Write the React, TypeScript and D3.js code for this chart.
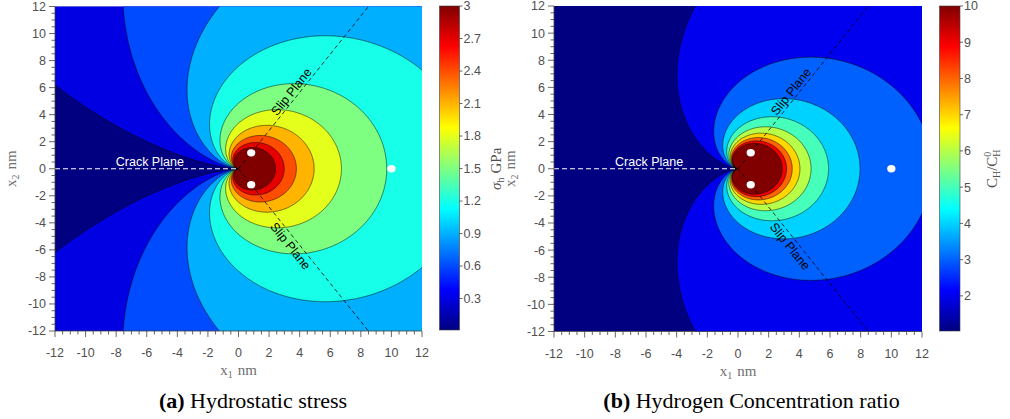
import React, { useMemo } from "react";
import * as d3 from "d3";

// ---- Crack-tip field parameters ----
// Hydrostatic stress of a mode-I crack: sigma_h = K * cos(theta/2) / sqrt(r)  [GPa, nm]
const stressIntensity = 4.67;
// Hydrogen trapping factor V_H / (R T) in 1/GPa : C/C0 = exp(factor * sigma_h)
const trapFactor = 0.8375;

// Contour levels
const stressLevels = [0.3, 0.6, 0.9, 1.2, 1.5, 1.8, 2.1, 2.4, 2.7, 3.0];
const concLevels = [2, 3, 4, 5, 6, 7, 8, 9, 10];

// Colour limits
const stressRange: [number, number] = [0.01, 3];
const concRange: [number, number] = [1.03, 10];

// Tick labels
const axisTicks = [-12, -10, -8, -6, -4, -2, 0, 2, 4, 6, 8, 10, 12];
const stressTicks = [0.3, 0.6, 0.9, 1.2, 1.5, 1.8, 2.1, 2.4, 2.7, 3];
const stressTickLabels = ["0.3", "0.6", "0.9", "1.2", "1.5", "1.8", "2.1", "2.4", "2.7", "3"];
const concTicks = [2, 3, 4, 5, 6, 7, 8, 9, 10];

// Annotations
const slipAngleDeg = 54.7;
const hydrogenSitesX = [0.83, 0.83, 10];
const hydrogenSitesY = [1.18, -1.18, 0];
const siteRadius = 0.27;
const crackLabelPos: [number, number] = [-5.8, 0.2];
const slipLabelX = [3.45, 3.4];
const slipLabelY = [5.7, -5.72];

const DOMAIN: [number, number] = [-12, 12];
const SANS = "'Liberation Sans', Arial, Helvetica, sans-serif";
const SERIF = "'Liberation Serif', 'Times New Roman', Times, serif";

const jet = (t: number) => {
  const c = (v: number) => Math.max(0, Math.min(1, v));
  const r = c(1.5 - Math.abs(4 * t - 3));
  const g = c(1.5 - Math.abs(4 * t - 2));
  const b = c(1.5 - Math.abs(4 * t - 1));
  return d3.rgb(r * 255, g * 255, b * 255).formatHex();
};

// Sampling grid (slightly larger than the view, so outer ring edges get clipped away)
const N = 600;
const G0 = -12.5;
const STEP = 25 / N;

const hydrostatic = (x: number, y: number) => {
  const r = Math.hypot(x, y);
  const th = Math.atan2(y, x);
  return (stressIntensity * Math.cos(th / 2)) / Math.sqrt(r);
};
const concentration = (x: number, y: number) => Math.exp(trapFactor * hydrostatic(x, y));

function sample(f: (x: number, y: number) => number) {
  const vals = new Array(N * N);
  for (let j = 0; j < N; j++) {
    const y = -G0 - (j + 0.5) * STEP;
    for (let i = 0; i < N; i++) {
      const x = G0 + (i + 0.5) * STEP;
      vals[j * N + i] = f(x, y);
    }
  }
  return vals;
}

type PanelProps = {
  id: string;
  left: number;
  right: number;
  top: number;
  bottom: number;
  field: (x: number, y: number) => number;
  levels: number[];
  range: [number, number];
  cbLeft: number;
  cbWidth: number;
  cbTop: number;
  cbBottom: number;
  cbTicks: number[];
  cbTickLabels: string[];
  cbLabel: React.ReactNode;
  cbLabelX: number;
  yLabelX: number;
  caption: [string, string];
  captionX: number;
};

function Panel(p: PanelProps) {
  const xs = d3.scaleLinear().domain(DOMAIN).range([p.left, p.right]);
  const ys = d3.scaleLinear().domain(DOMAIN).range([p.bottom, p.top]);
  const cs = d3.scaleLinear().domain(p.range).range([p.cbBottom, p.cbTop]);
  const colorOf = (v: number) => jet((v - p.range[0]) / (p.range[1] - p.range[0]));

  const paths = useMemo(() => {
    const vals = sample(p.field);
    const contours = d3.contours().size([N, N]).thresholds(p.levels)(vals);
    const proj = d3.geoTransform({
      point(px: number, py: number) {
        (this as any).stream.point(xs(G0 + px * STEP), ys(-G0 - py * STEP));
      },
    });
    const gp = d3.geoPath(proj);
    return contours.map((c) => ({ value: c.value, d: gp(c as any) || "" }));
  }, [p.id]);

  const minor = d3.range(-12, 12.001, 0.5);
  const clipId = `clip-${p.id}`;
  const gradId = `grad-${p.id}`;
  const jetStops = [0, 0.125, 0.375, 0.625, 0.875, 1];

  const a = (slipAngleDeg * Math.PI) / 180;
  const far = 40;
  const pxAngle =
    (Math.atan2(ys(Math.sin(a)) - ys(0), xs(Math.cos(a)) - xs(0)) * 180) / Math.PI;

  const midY = (p.top + p.bottom) / 2;

  return (
    <g>
      <defs>
        <clipPath id={clipId}>
          <rect x={p.left} y={p.top} width={p.right - p.left} height={p.bottom - p.top} />
        </clipPath>
        <linearGradient id={gradId} x1="0" y1="1" x2="0" y2="0">
          {jetStops.map((t) => (
            <stop key={t} offset={t} stopColor={jet(t)} />
          ))}
        </linearGradient>
      </defs>

      <g clipPath={`url(#${clipId})`}>
        <rect
          x={p.left}
          y={p.top}
          width={p.right - p.left}
          height={p.bottom - p.top}
          fill={colorOf(p.range[0])}
        />
        {paths.map((c) => (
          <path key={"f" + c.value} d={c.d} fill={colorOf(c.value)} fillRule="evenodd" />
        ))}
        {paths.map((c) => (
          <path key={"s" + c.value} d={c.d} fill="none" stroke="#000" strokeWidth={0.6} strokeOpacity={0.85} />
        ))}

        {/* slip planes */}
        {[1, -1].map((s) => (
          <line
            key={"slip" + s}
            x1={xs(0)}
            y1={ys(0)}
            x2={xs(far * Math.cos(a))}
            y2={ys(s * far * Math.sin(a))}
            stroke="#000"
            strokeWidth={0.8}
            strokeDasharray="4 3"
          />
        ))}
        {/* crack plane */}
        <line
          x1={xs(-12)}
          y1={ys(0)}
          x2={xs(0)}
          y2={ys(0)}
          stroke="#fff"
          strokeWidth={1}
          strokeDasharray="5 3"
        />
        {/* hydrogen sites */}
        {hydrogenSitesX.map((hx, i) => (
          <ellipse
            key={"h" + i}
            cx={xs(hx)}
            cy={ys(hydrogenSitesY[i])}
            rx={xs(siteRadius) - xs(0)}
            ry={ys(0) - ys(siteRadius)}
            fill="#fff"
          />
        ))}
      </g>

      <text
        x={xs(crackLabelPos[0])}
        y={ys(crackLabelPos[1])}
        fill="#fff"
        fontFamily={SANS}
        fontSize={12.5}
        textAnchor="middle"
      >
        Crack Plane
      </text>
      {slipLabelX.map((lx, i) => (
        <text
          key={"sl" + i}
          transform={`translate(${xs(lx)},${ys(slipLabelY[i])}) rotate(${i === 0 ? pxAngle : -pxAngle})`}
          fill="#000"
          fontFamily={SANS}
          fontSize={12.5}
          textAnchor="middle"
          dy="0.35em"
        >
          Slip Plane
        </text>
      ))}

      {/* axes */}
      <line x1={p.left} y1={p.top} x2={p.left} y2={p.bottom} stroke="#404040" strokeWidth={0.8} />
      <line x1={p.left} y1={p.bottom} x2={p.right} y2={p.bottom} stroke="#404040" strokeWidth={0.8} />
      {minor.map((v) => {
        const major = Math.abs(v % 2) < 1e-9;
        const len = major ? 6 : 3.5;
        return (
          <g key={"t" + v}>
            <line x1={p.left - len} x2={p.left} y1={ys(v)} y2={ys(v)} stroke="#404040" strokeWidth={0.8} />
            <line x1={xs(v)} x2={xs(v)} y1={p.bottom} y2={p.bottom + len} stroke="#404040" strokeWidth={0.8} />
          </g>
        );
      })}
      {axisTicks.map((v) => (
        <g key={"l" + v} fontFamily={SANS} fontSize={12.5} fill="#505050">
          <text x={p.left - 9} y={ys(v)} dy="0.35em" textAnchor="end">
            {v}
          </text>
          <text x={xs(v)} y={p.bottom + 26} textAnchor="middle">
            {v}
          </text>
        </g>
      ))}
      <text
        x={(p.left + p.right) / 2}
        y={p.bottom + 44}
        textAnchor="middle"
        fontFamily={SERIF}
        fontSize={15}
        fill="#707070"
      >
        x<tspan fontSize={10} dy={3}>1</tspan>
        <tspan dy={-3} dx={5}>nm</tspan>
      </text>
      <text
        transform={`translate(${p.yLabelX},${midY}) rotate(-90)`}
        textAnchor="middle"
        fontFamily={SERIF}
        fontSize={15}
        fill="#707070"
      >
        x<tspan fontSize={10} dy={3}>2</tspan>
        <tspan dy={-3} dx={5}>nm</tspan>
      </text>

      {/* colorbar */}
      <rect
        x={p.cbLeft}
        y={p.cbTop}
        width={p.cbWidth}
        height={p.cbBottom - p.cbTop}
        fill={`url(#${gradId})`}
        stroke="#404040"
        strokeWidth={0.6}
      />
      {p.cbTicks.map((v, i) => (
        <g key={"cb" + v}>
          <line
            x1={p.cbLeft + p.cbWidth}
            x2={p.cbLeft + p.cbWidth + 3}
            y1={cs(v)}
            y2={cs(v)}
            stroke="#404040"
            strokeWidth={0.8}
          />
          <text
            x={p.cbLeft + p.cbWidth + 4}
            y={cs(v)}
            dy="0.35em"
            fontFamily={SANS}
            fontSize={12.5}
            fill="#505050"
          >
            {p.cbTickLabels[i]}
          </text>
        </g>
      ))}
      <text
        transform={`translate(${p.cbLabelX},${midY}) rotate(-90)`}
        textAnchor="middle"
        fontFamily={SERIF}
        fontSize={15}
        fill="#505050"
      >
        {p.cbLabel}
      </text>

      {/* caption */}
      <text x={p.captionX} y={408} textAnchor="middle" fontFamily={SERIF} fontSize={22} fill="#000">
        <tspan fontWeight="bold">{p.caption[0]}</tspan> {p.caption[1]}
      </text>
    </g>
  );
}

export default function App() {
  return (
    <svg width={1010} height={419} style={{ display: "block", position: "absolute", left: 0, top: 0, background: "#fff" }}>
      <Panel
        id="a"
        left={55}
        right={422}
        top={6.5}
        bottom={331}
        field={hydrostatic}
        levels={stressLevels}
        range={stressRange}
        cbLeft={439.5}
        cbWidth={20}
        cbTop={6}
        cbBottom={330}
        cbTicks={stressTicks}
        cbTickLabels={stressTickLabels}
        cbLabel={
          <>
            <tspan fontStyle="italic">σ</tspan>
            <tspan fontSize={10} dy={3}>h</tspan>
            <tspan dy={-3} dx={4}>GPa</tspan>
          </>
        }
        cbLabelX={501}
        yLabelX={16}
        caption={["(a)", "Hydrostatic stress"]}
        captionX={253}
      />
      <Panel
        id="b"
        left={554}
        right={922}
        top={6}
        bottom={331.5}
        field={concentration}
        levels={concLevels}
        range={concRange}
        cbLeft={939.5}
        cbWidth={20.5}
        cbTop={6}
        cbBottom={331}
        cbTicks={concTicks}
        cbTickLabels={concTicks.map(String)}
        cbLabel={
          <>
            C<tspan fontSize={10} dy={3}>H</tspan>
            <tspan dy={-3}>/C</tspan>
            <tspan fontSize={10} dy={-6}>0</tspan>
            <tspan fontSize={10} dx={-5} dy={9}>H</tspan>
          </>
        }
        cbLabelX={997}
        yLabelX={515}
        caption={["(b)", "Hydrogen Concentration ratio"]}
        captionX={751.5}
      />
    </svg>
  );
}
